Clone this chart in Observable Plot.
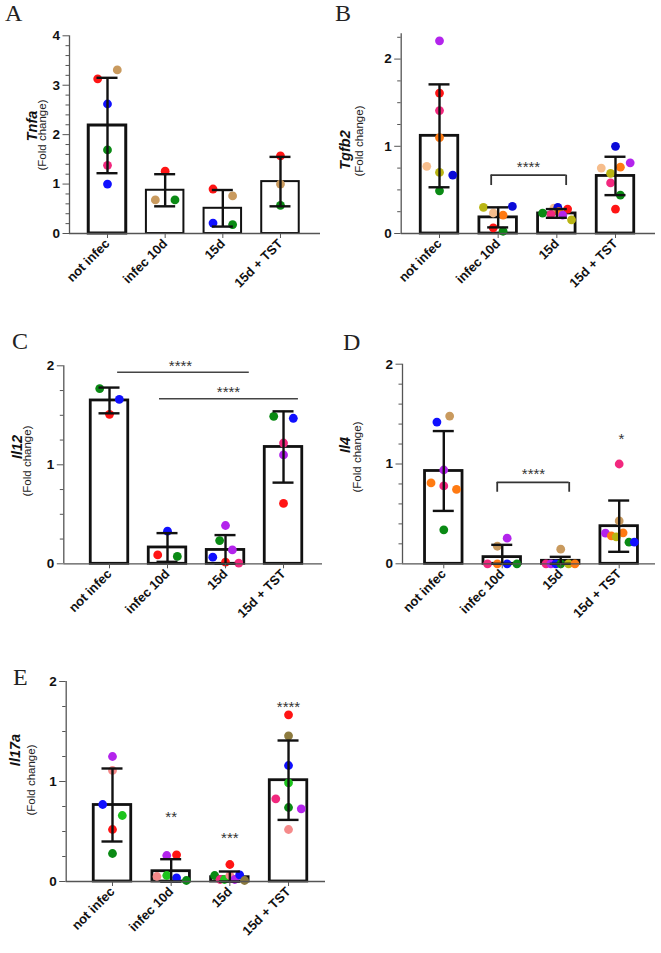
<!DOCTYPE html>
<html><head><meta charset="utf-8">
<script src="https://cdn.jsdelivr.net/npm/d3@7"></script>
<script src="https://cdn.jsdelivr.net/npm/@observablehq/plot@0.6"></script>
<style>
body{margin:0;background:#fff;}
#fig{position:relative;width:661px;height:953px;overflow:hidden;font-family:"Liberation Sans",Arial,sans-serif;background:#fff;}
.panel{position:absolute;}
.letter{position:absolute;font-family:"Liberation Serif","Times New Roman",serif;font-size:24px;line-height:normal;color:#222;}
.ytitle{position:absolute;white-space:nowrap;transform:translate(-50%,-50%) rotate(-90deg);line-height:1;}
.gene{font-weight:bold;font-style:italic;font-size:14.5px;color:#111;}
.fc{font-size:11.5px;color:#222;}
</style></head><body><div id="fig"></div>
<script>
// ---------- data ----------
const groups = ["not infec", "infec 10d", "15d", "15d + TST"];

// A: Tnfa
const tnfaMean = [2.185, 0.875, 0.51, 1.05];
const tnfaSD   = [0.965, 0.325, 0.37, 0.50];
const tnfaPts = [ // [group, value, colour, column slot]
  [0,3.13,"red",-2],[0,3.31,"tan",2],[0,2.62,"blue",0],[0,1.69,"green",0],[0,1.38,"pink",0],[0,1.0,"blue",0],
  [1,1.26,"red",0],[1,0.68,"tan",-2],[1,0.68,"green",2],
  [2,0.9,"red",-2],[2,0.76,"tan",2],[2,0.21,"blue",-2],[2,0.18,"green",2],
  [3,1.57,"red",0],[3,1.0,"tan",0],[3,0.57,"green",0]
];
const tnfaMajor = [0,1,2,3,4];

// B: Tgfb2
const tgfb2Mean = [1.12, 0.185, 0.23, 0.66];
const tgfb2SD   = [0.59, 0.115, 0.05, 0.22];
const tgfb2Pts = [
  [0,2.21,"purple",0],[0,1.61,"red",0],[0,1.41,"pink",0],[0,1.10,"orange",0],[0,0.77,"peach",-2.6],[0,0.70,"olive",0],[0,0.67,"navy",2.7],[0,0.49,"green",0],
  [1,0.30,"olive",-3],[1,0.31,"navy",2.9],[1,0.235,"peach",-1],[1,0.21,"orange",1],[1,0.065,"red",-1],[1,0.026,"green",1],
  [2,0.233,"green",-2.9],[2,0.29,"peach",-0.6],[2,0.30,"navy",0.2],[2,0.28,"red",2.2],[2,0.25,"orange",0.4],[2,0.22,"pink",-1.2],[2,0.21,"purple",1.2],[2,0.157,"olive",3],
  [3,1.0,"navy",0],[3,0.81,"purple",3],[3,0.75,"peach",-2.9],[3,0.76,"orange",1],[3,0.69,"olive",-1],[3,0.58,"pink",-1],[3,0.44,"green",1],[3,0.28,"red",0]
];
const tgfb2Major = [0,1,2];
const tgfb2Brackets = [{x1:0.881, x2:2.159, y:0.669, yEnd:0.55}];
const tgfb2Stars = [{x:1.517, y:0.806, text:"****"}];

// C: Il12
const il12Mean = [1.65, 0.165, 0.14, 1.18];
const il12SD   = [0.13, 0.145, 0.15, 0.36];
const il12Pts = [
  [0,1.77,"green",-2],[0,1.66,"blue",2],[0,1.51,"red",0],
  [1,0.33,"blue",0],[1,0.09,"red",-2],[1,0.074,"green",2],
  [2,0.387,"purple",0],[2,0.235,"green",-1.2],[2,0.14,"purple",1.4],[2,0.067,"blue",-2.6],[2,0.016,"red",0],[2,0.006,"pink",2.7],
  [3,1.49,"green",-2],[3,1.47,"blue",2],[3,1.22,"pink",0],[3,1.10,"purple",0],[3,0.61,"red",0]
];
const il12Major = [0,1,2];
const il12Lines = [{x1:0.14, x2:2.41, y:1.935}, {x1:0.862, x2:3.257, y:1.667}];
const il12Stars = [{x:1.224, y:2.036, text:"****"}, {x:2.052, y:1.771, text:"****"}];

// D: Il4
const il4Mean = [0.93, 0.067, 0.03, 0.377];
const il4SD   = [0.40, 0.123, 0.04, 0.257];
const il4Pts = [
  [0,1.48,"tan",1.2],[0,1.42,"blue",-1.4],[0,0.94,"purple",0],[0,0.81,"orange",-2.6],[0,0.78,"pink",0],[0,0.745,"orange",2.6],[0,0.34,"green",0],
  [1,0.257,"purple",1],[1,0.176,"tan",-1],[1,0,"pink",-3],[1,0,"orange",-1],[1,0,"blue",1],[1,0,"green",3],
  [2,0.147,"tan",0],[2,0,"pink",-3],[2,0,"purple",-2],[2,0,"blue",-1],[2,0,"green",0],[2,0,"olive",1.6],[2,0,"orange",2.9],
  [3,1.0,"pink",0],[3,0.43,"tan",0],[3,0.307,"purple",-2.8],[3,0.28,"orange",-1.6],[3,0.31,"orange",0.8],[3,0.27,"olive",-0.6],[3,0.217,"green",2],[3,0.217,"blue",3.1]
];
const il4Major = [0,1,2];
const il4Brackets = [{x1:0.914, x2:2.145, y:0.815, yEnd:0.717}];
const il4Stars = [{x:1.534, y:0.935, text:"****"}, {x:3.04, y:1.285, text:"*"}];

// E: Il17a
const il17aMean = [0.765, 0.103, 0.043, 1.013];
const il17aSD   = [0.365, 0.12, 0.057, 0.397];
const il17aPts = [
  [0,1.25,"purple",0],[0,1.11,"salmon",0],[0,0.77,"blue",-2],[0,0.66,"lime",2],[0,0.52,"red",0],[0,0.28,"green",0],
  [1,0.26,"purple",-0.9],[1,0.267,"red",1.1],[1,0.05,"salmon",-2.9],[1,0.06,"lime",-0.9],[1,0.037,"blue",1.1],[1,0.01,"green",3.1],
  [2,0.17,"red",0],[2,0.06,"green",-3.1],[2,0.02,"pink",-2],[2,0.02,"lime",-1.1],[2,0.06,"salmon",0],[2,0.02,"purple",1],[2,0.067,"blue",2],[2,0.01,"khaki",3],
  [3,1.667,"red",0],[3,1.457,"khaki",0],[3,1.16,"blue",0],[3,0.987,"lime",0],[3,0.827,"pink",-2.6],[3,0.74,"green",0],[3,0.727,"purple",2.6],[3,0.52,"salmon",0]
];
const il17aMajor = [0,1,2];
const il17aStars = [{x:1, y:0.68, text:"**"}, {x:2, y:0.47, text:"***"}, {x:3, y:1.78, text:"****"}];

// ---------- style ----------
const palette = {
  red:"#ff1414", tan:"#c99a5e", blue:"#1010ff", navy:"#0a0ad8", green:"#0a8a14", pink:"#f2287e",
  purple:"#b324ec", orange:"#ff7a12", peach:"#f6bd8c", olive:"#b9b514", salmon:"#f58a8a",
  lime:"#1cc41c", khaki:"#8c7a3e"
};
const BAR_PX = 37.5, CAP_PX = 21, SLOT_PX = 4.9, DOT_R = 4.4;
const AXIS = "#555";

const fig = document.getElementById("fig");

function panel(cfg) {
  const {mean, sd, pts, major, minorStep, yMax, xDomain, box, m, barStroke} = cfg;
  const step = (box.w - m.l - m.r) / (xDomain[1] - xDomain[0]);
  const half = BAR_PX / 2 / step, cap = CAP_PX / 2 / step, slot = SLOT_PX / step;
  const bars = mean.map((v, i) => ({i, v, lo: Math.max(0, v - sd[i]), hi: v + sd[i], sw: barStroke[i]}));
  const dots = pts.map(([i, v, c, s]) => ({x: i + s * slot, v, c}));
  const minor = d3.range(0, yMax + 1e-9, minorStep).filter(t => !major.some(M => Math.abs(M - t) < 1e-6));
  const brackets = cfg.brackets || [], lines = cfg.lines || [], stars = cfg.stars || [];
  const legs = brackets.flatMap(b => [{x: b.x1, y1: b.yEnd, y2: b.y}, {x: b.x2, y1: b.yEnd, y2: b.y}]);
  const svg = Plot.plot({
    width: box.w, height: box.h,
    marginLeft: m.l, marginRight: m.r, marginTop: m.t, marginBottom: m.b,
    x: {type: "linear", domain: xDomain},
    y: {domain: [0, yMax]},
    style: {fontFamily: "'Liberation Sans', Arial, sans-serif", overflow: "visible", background: "transparent"},
    marks: [
      Plot.rectY(bars, {x1: d => d.i - half, x2: d => d.i + half, y1: 0, y2: "v", fill: "white", stroke: "#111", strokeWidth: d => d.sw}),
      Plot.dot(dots, {x: "x", y: "v", r: DOT_R, fill: d => palette[d.c], stroke: "none"}),
      Plot.ruleX(bars, {x: "i", y1: "lo", y2: "hi", stroke: "#111", strokeWidth: 2.4}),
      Plot.ruleY(bars, {y: "hi", x1: d => d.i - cap, x2: d => d.i + cap, stroke: "#111", strokeWidth: 2.4}),
      Plot.ruleY(bars, {y: "lo", x1: d => d.i - cap, x2: d => d.i + cap, stroke: "#111", strokeWidth: 2.4}),
      Plot.ruleY(lines, {y: "y", x1: "x1", x2: "x2", stroke: "#444", strokeWidth: 1.4}),
      Plot.ruleY(brackets, {y: "y", x1: "x1", x2: "x2", stroke: "#333", strokeWidth: 1.8}),
      Plot.ruleX(legs, {x: "x", y1: "y1", y2: "y2", stroke: "#333", strokeWidth: 1.8}),
      Plot.text(stars, {x: "x", y: "y", text: "text", fontSize: 15, fill: "#333", dy: 4}),
      Plot.ruleY([0], {stroke: AXIS, strokeWidth: 1.3}),
      Plot.ruleX([xDomain[0]], {stroke: AXIS, strokeWidth: 1.3}),
      Plot.axisY({ticks: minor, tickSize: 3.5, tickFormat: () => "", stroke: AXIS, label: null}),
      Plot.axisY({ticks: major, tickSize: 6.5, tickPadding: 3, tickFormat: d => String(d), fontSize: 13.5, fontWeight: "bold", stroke: AXIS, fill: "#111", label: null}),
      Plot.axisX({ticks: [0,1,2,3], tickFormat: i => groups[i], tickRotate: -45, tickSize: 5, tickPadding: 3,
                  fontSize: 13, fontWeight: "bold", stroke: AXIS, fill: "#111", label: null})
    ]
  });
  svg.classList.add("panel");
  svg.style.left = box.x + "px";
  svg.style.top = box.y + "px";
  fig.appendChild(svg);

  const L = document.createElement("div");
  L.className = "letter"; L.textContent = cfg.letter;
  L.style.left = cfg.letterPos[0] + "px"; L.style.top = cfg.letterPos[1] + "px";
  fig.appendChild(L);

  const g = document.createElement("div");
  g.className = "ytitle gene"; g.textContent = cfg.gene;
  g.style.left = cfg.genePos[0] + "px"; g.style.top = cfg.genePos[1] + "px";
  fig.appendChild(g);
  const f = document.createElement("div");
  f.className = "ytitle fc"; f.textContent = "(Fold change)";
  f.style.left = cfg.fcPos[0] + "px"; f.style.top = cfg.fcPos[1] + "px";
  fig.appendChild(f);
}

panel({letter: "A", letterPos: [5, 0], gene: "Tnfa", genePos: [32, 126], fcPos: [43, 135],
  mean: tnfaMean, sd: tnfaSD, pts: tnfaPts, major: tnfaMajor, minorStep: 0.2, yMax: 4,
  xDomain: [-0.659, 3.694], box: {x: 0, y: 0, w: 330, h: 300}, m: {l: 69, r: 10, t: 35.3, b: 67},
  barStroke: [3, 2, 2, 2]});

panel({letter: "B", letterPos: [335, 0], gene: "Tgfb2", genePos: [345, 150], fcPos: [360, 141],
  mean: tgfb2Mean, sd: tgfb2SD, pts: tgfb2Pts, major: tgfb2Major, minorStep: 0.25, yMax: 2.29,
  xDomain: [-0.653, 3.682], box: {x: 330, y: 0, w: 331, h: 300}, m: {l: 70.7, r: 6, t: 33.3, b: 67},
  barStroke: [2.8, 2.8, 2.8, 2.8], brackets: tgfb2Brackets, stars: tgfb2Stars});

panel({letter: "C", letterPos: [12, 328], gene: "Il12", genePos: [17, 447], fcPos: [28, 461],
  mean: il12Mean, sd: il12SD, pts: il12Pts, major: il12Major, minorStep: 0.25, yMax: 2,
  xDomain: [-0.788, 3.672], box: {x: 0, y: 320, w: 330, h: 310}, m: {l: 63.3, r: 8, t: 45.3, b: 66.7},
  barStroke: [2.8, 2.8, 2.8, 2.8], lines: il12Lines, stars: il12Stars});

panel({letter: "D", letterPos: [343, 329], gene: "Il4", genePos: [345, 445], fcPos: [358, 457],
  mean: il4Mean, sd: il4SD, pts: il4Pts, major: il4Major, minorStep: 0.2, yMax: 2,
  xDomain: [-0.706, 3.621], box: {x: 330, y: 320, w: 331, h: 310}, m: {l: 72, r: 6, t: 43.7, b: 66.7},
  barStroke: [2.8, 2.8, 2.8, 2.8], brackets: il4Brackets, stars: il4Stars});

panel({letter: "E", letterPos: [13, 664], gene: "Il17a", genePos: [15, 750], fcPos: [32, 780],
  mean: il17aMean, sd: il17aSD, pts: il17aPts, major: il17aMajor, minorStep: 0.25, yMax: 2,
  xDomain: [-0.789, 3.63], box: {x: 0, y: 640, w: 330, h: 313}, m: {l: 65.7, r: 5, t: 41, b: 72},
  barStroke: [2.8, 2.8, 2.8, 2.8], stars: il17aStars});
</script></body></html>
